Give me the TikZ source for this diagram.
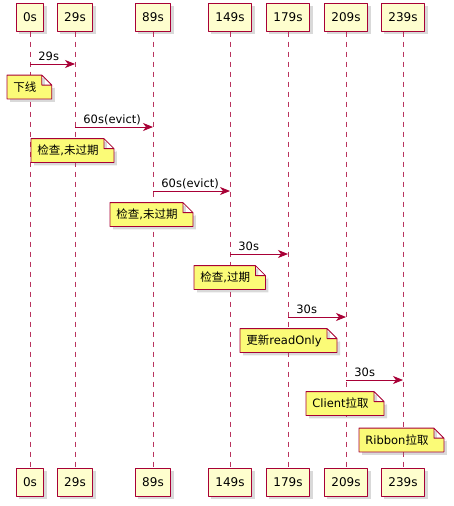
\documentclass[tikz,border=0pt]{standalone}
\usepackage{fontspec}
\setmainfont{DejaVu Sans}
\newfontfamily\cjk{Noto Sans CJK SC}
\usetikzlibrary{arrows.meta,shadows}
\definecolor{umlred}{HTML}{A80036}
\definecolor{partfill}{HTML}{FEFECE}
\definecolor{notefill}{HTML}{FBFB77}
\tikzset{
  part/.style={draw=umlred,line width=1pt,fill=partfill,minimum height=28pt,inner xsep=7pt,
    font=\fontsize{12}{14}\selectfont,drop shadow={shadow xshift=3pt,shadow yshift=-3pt,opacity=0.3}},
  life/.style={umlred!80,line width=0.7pt,dash pattern=on 5pt off 5pt},
  msg/.style={umlred,line width=0.8pt,-{Stealth[length=10pt,width=8pt,inset=3pt]}},
  msglbl/.style={black,pos=0,anchor=base west,xshift=8pt,yshift=4pt,inner sep=0pt,font=\fontsize{11.5}{13}\selectfont},
  notetxt/.style={inner xsep=6pt,inner ysep=0pt,minimum height=23pt,anchor=west,font=\fontsize{11.5}{13}\selectfont},
  notebox/.style={draw=umlred,line width=0.8pt,fill=notefill,drop shadow={shadow xshift=3pt,shadow yshift=-3pt,opacity=0.3}}
}
\begin{document}
\begin{tikzpicture}[x=1pt,y=-1pt,line join=round]
		\def \ytop{17};
		\def \ybot{482};
		\useasboundingbox (0,0) rectangle (454,506);
		\foreach \n/\x in {0/30,29/75,89/153,149/230,179/288,209/346,239/403}
		{
		\node[part] (t\n) at (\x,\ytop) {\n s};
		\node[part] (b\n) at (\x,\ybot) {\n s};
		\draw[life] (t\n) -- (b\n);
		}
		\foreach \i/\a/\b/\y/\t in {1/0/29/64/29s,2/29/89/127/60s(evict),3/89/149/191/60s(evict),4/149/179/254/30s,5/179/209/317/30s,6/209/239/380/30s}
		\draw[msg] (t\a |- 0,\y) -- (t\b |- 0,\y) node[msglbl] (m\i) {\t};
		\foreach \i/\x/\y/\t in {1/7/87/{\cjk 下线},2/31/150.5/{{\cjk 检查},{\cjk 未过期}},3/110/214.5/{{\cjk 检查},{\cjk 未过期}},4/194/277.5/{{\cjk 检查},{\cjk 过期}},5/240/340.5/{{\cjk 更新}readOnly},6/306/403.5/{Client{\cjk 拉取}},7/359/440/{Ribbon{\cjk 拉取}}}
		\draw[notebox] (\x,\y) node[notetxt] (n\i) {\t}
		(n\i.north west) -- ([xshift=-1pt]n\i.north east) -- ([xshift=9pt,yshift=-10pt]n\i.north east) -- ([xshift=9pt]n\i.south east) -- (n\i.south west) -- cycle
		([xshift=-1pt]n\i.north east) -- ([xshift=-1pt,yshift=-10pt]n\i.north east) -- ([xshift=9pt,yshift=-10pt]n\i.north east);
\end{tikzpicture}
\end{document}
